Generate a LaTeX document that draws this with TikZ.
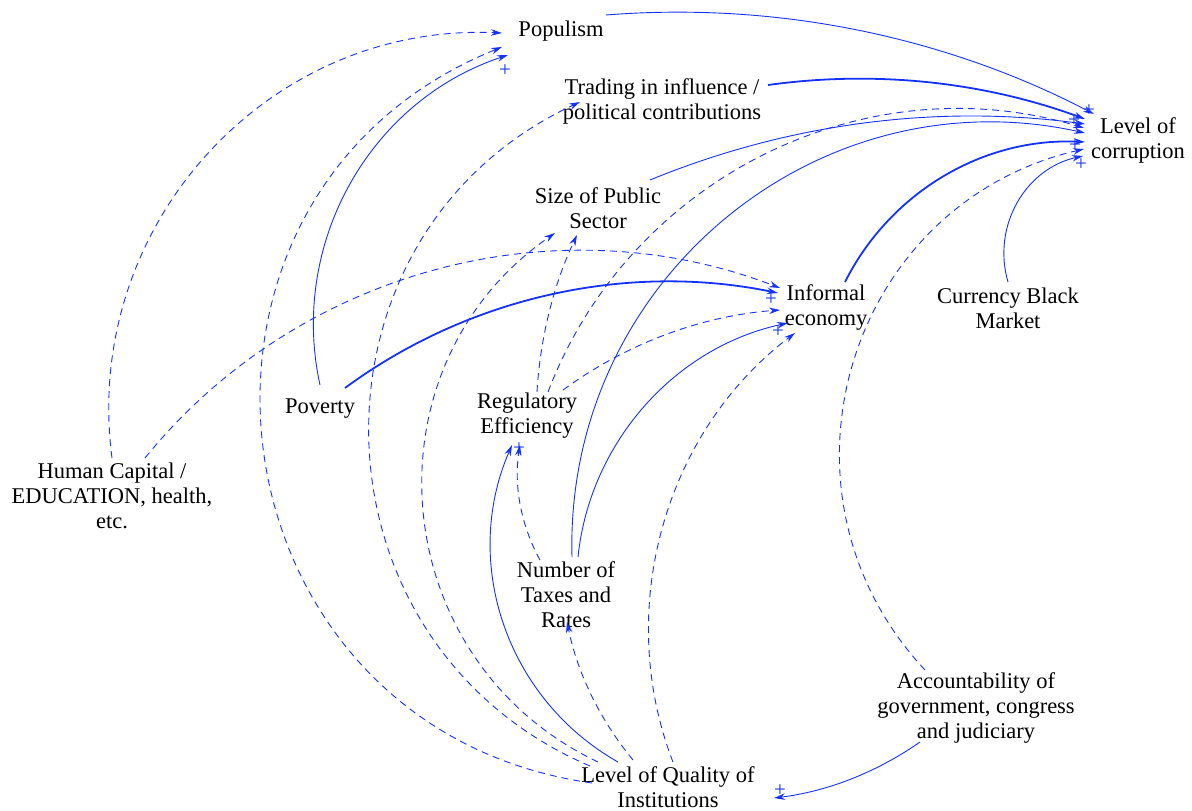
\documentclass[tikz,border=0pt]{standalone}
\usepackage{fontspec}
\setmainfont{Liberation Serif}
\newfontfamily\labelfont{Liberation Serif}
\usetikzlibrary{arrows.meta}
\definecolor{cldblue}{RGB}{20,50,255}
\begin{document}
\begin{tikzpicture}[x=1pt,y=-1pt,
  var/.style={inner sep=0pt,align=center,font=\labelfont\fontsize{22.5}{25}\selectfont},
  link/.style={draw=cldblue,line width=0.9pt,-{Stealth[length=11pt,width=6.5pt]}},
  neglink/.style={link,dash pattern=on 7pt off 5pt},
  heavylink/.style={link,line width=1.8pt},
  pol/.style={inner sep=0pt,text=cldblue,font=\labelfont\fontsize{21}{21}\selectfont}]
\useasboundingbox (0,0) rectangle (1192,811);

% variables
\node[var] (pop) at (561,31) {Populism};
\node[var] (tr)  at (662,101) {Trading in influence /\\political contributions};
\node[var] (lc)  at (1138,140) {Level of\\corruption};
\node[var] (sz)  at (598,208) {Size of Public\\Sector};
\node[var] (inf) at (826,308) {Informal\\economy};
\node[var] (cbm) at (1008,308) {Currency Black\\Market};
\node[var] (pov) at (320,409) {Poverty};
\node[var] (reg) at (527,416) {Regulatory\\Efficiency};
\node[var] (hc)  at (112,496) {Human Capital /\\EDUCATION, health,\\etc.};
\node[var] (tax) at (566,595) {Number of\\Taxes and\\Rates};
\node[var] (acc) at (976,708) {Accountability of\\government, congress\\and judiciary};
\node[var] (loq) at (668,787) {Level of Quality of\\Institutions};

% links into Populism
\draw[neglink] ([shift={(0,-38)}]hc.center) to[bend left=50,looseness=1.04] ([shift={(-59,2)}]pop.center);
\draw[neglink] ([shift={(-76,-4)}]loq.center) to[bend left=75,looseness=1.36] ([shift={(-59,16)}]pop.center);
\draw[link] ([shift={(0,-24)}]pov.center) to[bend left=42,looseness=0.98] ([shift={(-53,24)}]pop.center);

% links into Level of corruption
\draw[link] ([shift={(45,-16)}]pop.center) to[bend left=16,looseness=0.87] ([shift={(-44,-26)}]lc.center);
\draw[heavylink] ([shift={(106,-16)}]tr.center) to[bend left=14,looseness=0.87] ([shift={(-53,-21)}]lc.center);
\draw[link] ([shift={(52,-28)}]sz.center) to[bend left=15,looseness=0.87] ([shift={(-53,-16)}]lc.center);
\draw[neglink] ([shift={(21,-24)}]reg.center) to[bend left=43,looseness=0.98] ([shift={(-54,-12)}]lc.center);
\draw[link] ([shift={(6,-38)}]tax.center) to[bend left=52,looseness=1.06] ([shift={(-53,-7)}]lc.center);
\draw[heavylink] ([shift={(19,-26)}]inf.center) to[bend left=33,looseness=0.93] ([shift={(-53,2)}]lc.center);
\draw[neglink] ([shift={(-51,-38)}]acc.center) to[bend left=60,looseness=1.14] ([shift={(-54,9)}]lc.center);
\draw[link] ([shift={(0,-26)}]cbm.center) to[bend left=47,looseness=1.02] ([shift={(-55,16)}]lc.center);

% links into Trading in influence and Size of Public Sector
\draw[neglink] ([shift={(-78,-21)}]loq.center) to[bend left=66,looseness=1.21] ([shift={(-82,1)}]tr.center);
\draw[neglink] ([shift={(-70,-25)}]loq.center) to[bend left=60,looseness=1.14] ([shift={(-43,25)}]sz.center);
\draw[neglink] ([shift={(10,-24)}]reg.center) to[bend left=11,looseness=0.86] ([shift={(-21,27)}]sz.center);

% links into Informal economy
\draw[neglink] ([shift={(33,-38)}]hc.center) to[bend left=36,looseness=0.94] ([shift={(-46,-20)}]inf.center);
\draw[heavylink] ([shift={(25,-21)}]pov.center) to[bend left=24,looseness=0.89] ([shift={(-48,-15)}]inf.center);
\draw[neglink] ([shift={(36,-26)}]reg.center) to[bend left=16,looseness=0.87] ([shift={(-46,2)}]inf.center);
\draw[link] ([shift={(12,-38)}]tax.center) to[bend left=36,looseness=0.94] ([shift={(-38,15)}]inf.center);
\draw[neglink] ([shift={(5,-25)}]loq.center) to[bend left=37,looseness=0.94] ([shift={(-31,25)}]inf.center);

% links into Regulatory Efficiency, Number of Taxes and Level of Quality
\draw[neglink] ([shift={(-26,-35)}]tax.center) to[bend left=19,looseness=0.88] ([shift={(-7,29)}]reg.center);
\draw[link] ([shift={(-50,-25)}]loq.center) to[bend left=42,looseness=0.98] ([shift={(-15,29)}]reg.center);
\draw[neglink] ([shift={(-35,-27)}]loq.center) to[bend left=14,looseness=0.87] ([shift={(1,27)}]tax.center);
\draw[link] ([shift={(-56,34)}]acc.center) to[bend left=14,looseness=0.87] ([shift={(106,11)}]loq.center);

% polarity signs
\node[pol] (s1) at (505,71) {+};
\node[pol] (s2) at (1089,111) {+};
\node[pol] (s3) at (1074,121) {+};
\node[pol] (s4) at (1075,146) {+};
\node[pol] (s5) at (1081,165) {+};
\node[pol] (s6) at (771,300) {+};
\node[pol] (s7) at (778,332) {+};
\node[pol] (s8) at (519,449) {+};
\node[pol] (s9) at (780,791) {+};
\end{tikzpicture}
\end{document}
